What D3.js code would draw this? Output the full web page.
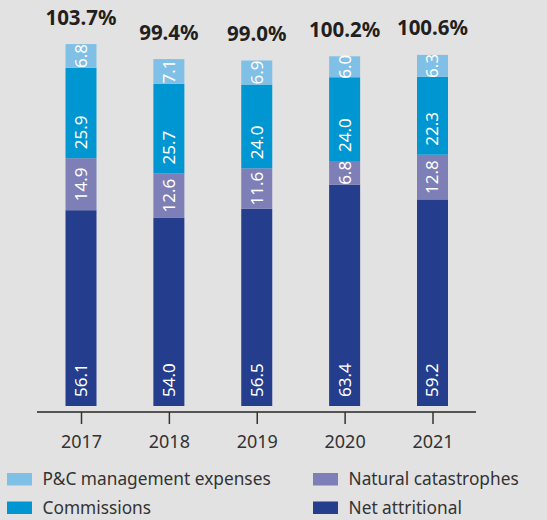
<!DOCTYPE html>
<html>
<head>
<meta charset="utf-8">
<script src="https://cdn.jsdelivr.net/npm/d3@7"></script>
<style>
  html, body { margin: 0; padding: 0; background: #e2e2e2; }
  svg { display: block; font-family: "Noto Sans", "Open Sans", sans-serif; }
</style>
</head>
<body>
<svg id="chart" width="547" height="520"></svg>
<script>
const years = ["2017", "2018", "2019", "2020", "2021"];
const netAttritional = [56.1, 54.0, 56.5, 63.4, 59.2];
const naturalCatastrophes = [14.9, 12.6, 11.6, 6.8, 12.8];
const commissions = [25.9, 25.7, 24.0, 24.0, 22.3];
const managementExpenses = [6.8, 7.1, 6.9, 6.0, 6.3];
const combinedRatio = ["103.7%", "99.4%", "99.0%", "100.2%", "100.6%"];
const seriesNames = ["Net attritional", "Natural catastrophes", "Commissions", "P&C management expenses"];
const seriesColors = ["#243d8d", "#7d7fb6", "#0096d1", "#80c0e7"];

const svg = d3.select("#chart");
svg.append("rect").attr("width", 547).attr("height", 520).attr("fill", "#e2e2e2");

const seriesValues = [netAttritional, naturalCatastrophes, commissions, managementExpenses];
const rows = years.map((y, i) => {
  const r = { year: y };
  seriesNames.forEach((s, k) => r[s] = seriesValues[k][i]);
  return r;
});
const stack = d3.stack().keys(seriesNames)(rows);

const x = d3.scalePoint().domain(years).range([81, 432.5]);
const y = d3.scaleLinear().domain([0, 110]).range([406, 406 - 110 * 3.49]);
const barW = 31;
const color = d3.scaleOrdinal().domain(seriesNames).range(seriesColors);

const g = svg.append("g");
stack.forEach((layer, li) => {
  const lg = g.append("g");
  lg.selectAll("rect").data(layer).join("rect")
    .attr("x", d => x(d.data.year) - barW / 2)
    .attr("width", barW)
    .attr("y", d => y(d[1]))
    .attr("height", d => y(d[0]) - y(d[1]))
    .attr("fill", color(layer.key));

  lg.selectAll("text").data(layer).join("text")
    .attr("fill", "#ffffff")
    .attr("font-size", 17)
    .attr("dy", "0.35em")
    .text(d => (d[1] - d[0]).toFixed(1))
    .each(function (d) {
      const t = d3.select(this);
      const len = this.getComputedTextLength();
      const bottom = y(d[0]), top = y(d[1]);
      const h = bottom - top;
      const cx = x(d.data.year);
      if (h < len + 18 || li === stack.length - 1) {
        t.attr("text-anchor", "middle")
         .attr("transform", `translate(${cx},${(top + bottom) / 2}) rotate(-90)`);
      } else {
        t.attr("text-anchor", "start")
         .attr("transform", `translate(${cx},${bottom - 9}) rotate(-90)`);
      }
    });
});

// totals on top
const last = stack[stack.length - 1];
g.append("g").selectAll("text").data(last).join("text")
  .attr("x", d => x(d.data.year))
  .attr("y", d => y(d[1]) - 19.5)
  .attr("text-anchor", "middle")
  .attr("font-size", 20.5)
  .attr("font-weight", "bold")
  .attr("fill", "#231f20")
  .text((d, i) => combinedRatio[i]);

// axis
const axisY = 412;
svg.append("line")
  .attr("x1", 37).attr("x2", 476)
  .attr("y1", axisY).attr("y2", axisY)
  .attr("stroke", "#555555").attr("stroke-width", 2);
const axis = svg.append("g")
  .attr("transform", `translate(0,${axisY})`)
  .call(d3.axisBottom(x).tickSize(12).tickPadding(0));
axis.select(".domain").remove();
axis.selectAll(".tick line").attr("stroke", "#333333").attr("stroke-width", 1.5);
axis.selectAll(".tick text")
  .attr("font-size", 18)
  .attr("font-family", "Noto Sans, sans-serif")
  .attr("fill", "#333333")
  .attr("y", 36).attr("dy", 0);

// legend
const legendItems = [
  { name: "P&C management expenses", x: 7, y: 473 },
  { name: "Natural catastrophes", x: 313, y: 473 },
  { name: "Commissions", x: 7, y: 501.5 },
  { name: "Net attritional", x: 313, y: 501.5 }
];
const lg = svg.append("g");
legendItems.forEach(it => {
  lg.append("rect")
    .attr("x", it.x).attr("y", it.y)
    .attr("width", 25).attr("height", 12.5)
    .attr("fill", color(it.name));
  lg.append("text")
    .attr("x", it.x + 35.5).attr("y", it.y + 12)
    .attr("font-size", 17.3)
    .attr("fill", "#333333")
    .text(it.name);
});
</script>
</body>
</html>
